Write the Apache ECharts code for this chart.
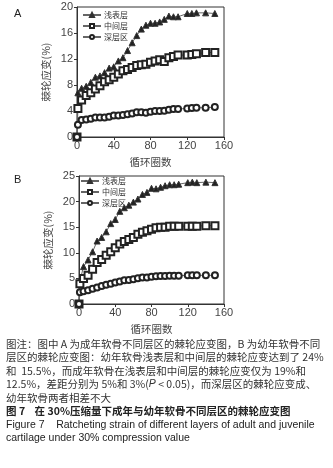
<!DOCTYPE html>
<html>
<head>
    <meta charset="utf-8">
    <title>棘轮应变图</title>
    <script src="https://cdn.jsdelivr.net/npm/echarts@6/dist/echarts.min.js"></script>
</head>
<body style="margin:0;background:#fff;">
    <div id="main" style="width:333px;height:468px;"></div>
    <script type="text/javascript">
        var cycles = [0, 1, 5, 10, 15, 20, 25, 30, 35, 40, 45, 50, 55, 60, 65, 70, 75, 80, 85, 90, 95, 100, 105, 110, 120, 125, 130, 140, 150];
        var seriesNames = ['浅表层', '中间层', '深层区'];

        // A: 成年软骨
        var adultSurface = [0, 6.8, 7.5, 7.8, 8.4, 9.2, 9.4, 9.9, 10.6, 10.8, 11.7, 12.2, 13.3, 14.5, 15.6, 16.6, 17.2, 17.5, 17.5, 17.7, 18.1, 18.6, 18.5, 18.5, 19.0, 19.0, 19.1, 19.1, 19.0];
        var adultMiddle = [0, 4.4, 5.7, 6.4, 6.8, 7.4, 7.9, 8.5, 8.8, 9.2, 9.7, 10.2, 10.4, 10.7, 11.0, 11.1, 11.2, 11.5, 11.7, 11.9, 11.6, 12.2, 12.4, 12.6, 12.6, 12.7, 12.8, 13.0, 13.0];
        var adultDeep = [0, 1.9, 2.6, 2.7, 2.8, 3.0, 3.0, 3.0, 3.1, 3.3, 3.3, 3.4, 3.5, 3.6, 3.8, 3.8, 3.75, 3.9, 4.0, 4.0, 4.05, 4.2, 4.3, 4.3, 4.4, 4.45, 4.5, 4.5, 4.6];

        // B: 幼年软骨
        var juvSurface = [0, 4.5, 7.3, 8.6, 10.2, 12.3, 13.0, 14.1, 15.7, 16.5, 18.1, 18.8, 19.3, 19.9, 20.5, 21.4, 21.8, 22.6, 22.5, 22.8, 23.1, 23.3, 23.3, 23.4, 23.7, 23.8, 23.7, 23.8, 23.7];
        var juvMiddle = [0, 3.95, 5.0, 5.6, 6.8, 8.1, 8.7, 9.5, 10.2, 11.0, 11.7, 12.2, 12.6, 13.0, 13.6, 14.0, 14.3, 14.6, 14.9, 15.0, 15.0, 15.2, 15.2, 15.2, 15.2, 15.2, 15.2, 15.3, 15.3];
        var juvDeep = [0, 2.3, 2.5, 2.7, 3.0, 3.2, 3.5, 3.75, 3.95, 4.2, 4.4, 4.65, 4.7, 4.85, 5.05, 5.2, 5.2, 5.3, 5.4, 5.45, 5.45, 5.5, 5.5, 5.5, 5.6, 5.6, 5.6, 5.6, 5.6];

        var captionLines = [
            '图注：图中 A 为成年软骨不同层区的棘轮应变图，B 为幼年软骨不同',
            '层区的棘轮应变图：幼年软骨浅表层和中间层的棘轮应变达到了 24%',
            '和  15.5%，而成年软骨在浅表层和中间层的棘轮应变仅为 19%和',
            '12.5%，差距分别为 5%和 3%({i|P} < 0.05)，而深层区的棘轮应变成、',
            '幼年软骨两者相差不大'
        ];
        var figTitleCn = '图 7    在 30%压缩量下成年与幼年软骨不同层区的棘轮应变图';
        var figTitleEn = ['Figure 7    Ratcheting strain of different layers of adult and juvenile',
            'cartilage under 30% compression value'];

        var dom = document.getElementById('main');
        var myChart = echarts.init(dom);

        var numFont = 'Liberation Sans';
        var cnFont = 'Noto Sans CJK SC';
        var symbols = ['triangle', 'emptyRect', 'emptyCircle'];
        var symbolSizes = [6, 7, 6];

        function zip(vals) {
            return vals.map(function (v, i) { return [cycles[i], v]; });
        }

        function makeSeries(vals, idx, gridIdx) {
            return {
                name: seriesNames[idx],
                type: 'line',
                xAxisIndex: gridIdx,
                yAxisIndex: gridIdx,
                data: zip(vals),
                symbol: symbols[idx],
                symbolSize: symbolSizes[idx],
                showAllSymbol: true,
                lineStyle: { color: '#666', width: 1 },
                itemStyle: { color: '#222', borderColor: '#333', borderWidth: 1 },
                emphasis: { disabled: true },
                animation: false
            };
        }

        function xAxisFor(gridIdx) {
            return {
                gridIndex: gridIdx, type: 'value', min: 0, max: 160, interval: 40,
                name: '循环圈数', nameLocation: 'middle', nameGap: 20,
                nameTextStyle: { fontFamily: cnFont, fontSize: 10.5, color: '#444' },
                axisLine: { lineStyle: { color: '#333' } },
                axisTick: { inside: false, length: 3, lineStyle: { color: '#333' } },
                axisLabel: { fontFamily: numFont, fontSize: 11, color: '#444', margin: 3 },
                splitLine: { show: false }
            };
        }

        function yAxisFor(gridIdx, max, step) {
            return {
                gridIndex: gridIdx, type: 'value', min: 0, max: max, interval: step,
                name: '棘轮应变(%)', nameLocation: 'middle', nameGap: 26,
                nameTextStyle: { fontFamily: cnFont, fontSize: 10.5, color: '#444' },
                axisLine: { show: true, lineStyle: { color: '#333' } },
                axisTick: { show: true, inside: false, length: 3, lineStyle: { color: '#333' } },
                axisLabel: { fontFamily: numFont, fontSize: 11, color: '#444', margin: 4 },
                splitLine: { show: false }
            };
        }

        function legendFor(left, top) {
            return {
                left: left, top: top, orient: 'vertical',
                itemWidth: 18, itemHeight: 5, itemGap: 3,
                padding: 0, selectedMode: false,
                data: seriesNames,
                textStyle: { fontFamily: cnFont, fontSize: 8, color: '#333', padding: [0, 0, 0, -2] }
            };
        }

        var lineTop = 338.5;
        var lineStep = 13.5;
        var captionGraphics = [
            { type: 'text', left: 14, top: 8, style: { text: 'A', font: '11px ' + numFont, fill: '#222' } },
            { type: 'text', left: 14, top: 174, style: { text: 'B', font: '11px ' + numFont, fill: '#222' } }
        ];
        captionLines.forEach(function (line, i) {
            captionGraphics.push({
                type: 'text', left: 6, top: lineTop + i * lineStep,
                style: {
                    text: line, font: '10.5px ' + cnFont, fill: '#333',
                    rich: { i: { fontStyle: 'italic', fontFamily: numFont, fontSize: 10.5, fill: '#333' } }
                }
            });
        });
        captionGraphics.push({
            type: 'text', left: 6, top: lineTop + 5 * lineStep,
            style: { text: figTitleCn, font: 'bold 10.5px ' + cnFont, fill: '#222' }
        });
        figTitleEn.forEach(function (line, i) {
            captionGraphics.push({
                type: 'text', left: 6, top: lineTop + (6 + i) * lineStep,
                style: { text: line, font: '10.5px ' + numFont, fill: '#222' }
            });
        });

        var option = {
            backgroundColor: '#fff',
            animation: false,
            grid: [
                { left: 77, top: 7, width: 147, height: 130, show: true, borderColor: '#333', borderWidth: 1, backgroundColor: 'transparent' },
                { left: 79, top: 176, width: 145, height: 128, show: true, borderColor: '#333', borderWidth: 1, backgroundColor: 'transparent' }
            ],
            xAxis: [xAxisFor(0), xAxisFor(1)],
            yAxis: [yAxisFor(0, 20, 4), yAxisFor(1, 25, 5)],
            legend: [legendFor(82, 11), legendFor(80, 177)],
            series: [
                makeSeries(adultSurface, 0, 0),
                makeSeries(adultMiddle, 1, 0),
                makeSeries(adultDeep, 2, 0),
                makeSeries(juvSurface, 0, 1),
                makeSeries(juvMiddle, 1, 1),
                makeSeries(juvDeep, 2, 1)
            ],
            graphic: captionGraphics
        };

        myChart.setOption(option, true);
    </script>
</body>
</html>
